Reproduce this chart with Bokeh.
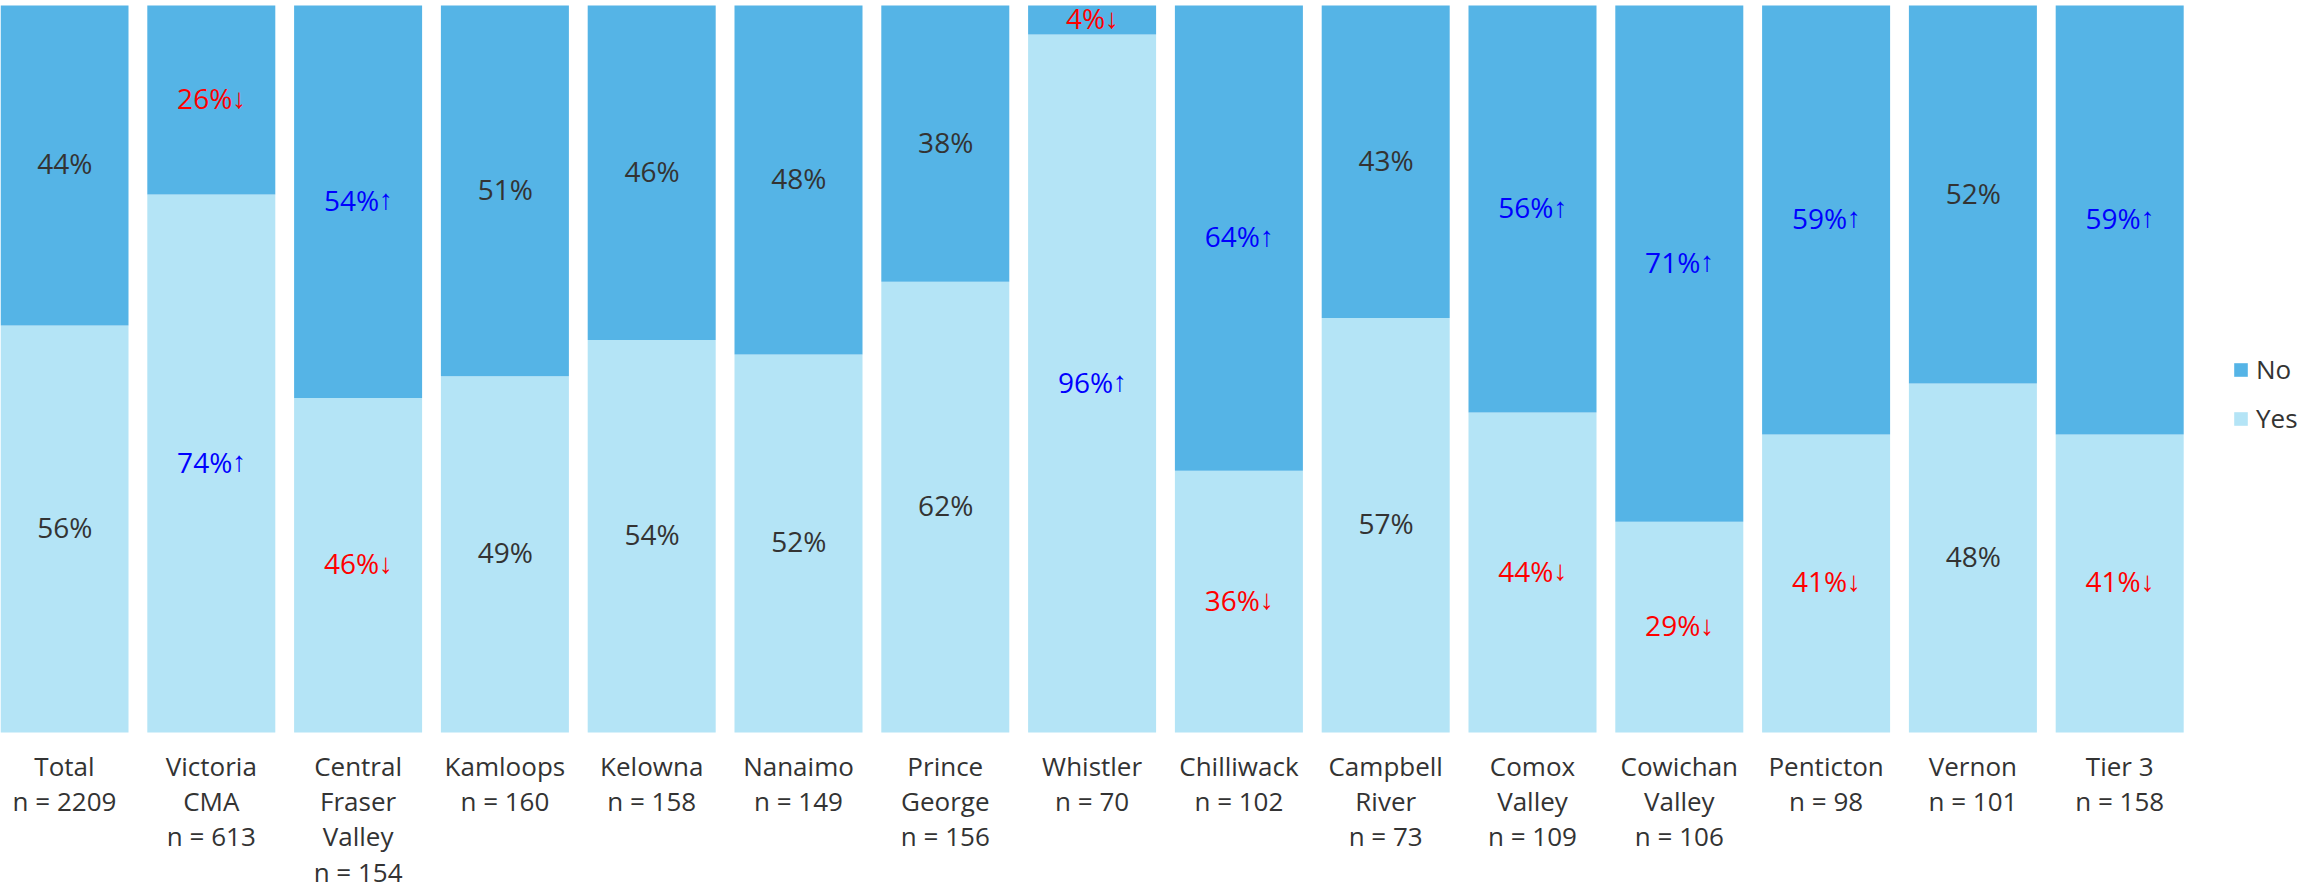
from bokeh.plotting import figure
from bokeh.models import ColumnDataSource, Range1d, Legend, LegendItem
from bokeh.core.properties import value
from bokeh.embed import file_html
from bokeh.resources import INLINE

categories = ["Total", "Victoria\nCMA", "Central\nFraser\nValley", "Kamloops", "Kelowna",
              "Nanaimo", "Prince\nGeorge", "Whistler", "Chilliwack", "Campbell\nRiver",
              "Comox\nValley", "Cowichan\nValley", "Penticton", "Vernon", "Tier 3"]
n_values = [2209, 613, 154, 160, 158, 149, 156, 70, 102, 73, 109, 106, 98, 101, 158]
yes_values = [56, 74, 46, 49, 54, 52, 62, 96, 36, 57, 44, 29, 41, 48, 41]
no_values = [44, 26, 54, 51, 46, 48, 38, 4, 64, 43, 56, 71, 59, 52, 59]
yes_sig = ["", "up", "down", "", "", "", "", "up", "down", "", "down", "down", "down", "", "down"]
no_sig = ["", "down", "up", "", "", "", "", "down", "up", "", "up", "up", "up", "", "up"]

NO_COLOR = "#55B4E6"
YES_COLOR = "#B4E4F6"
arrow = {"up": "\u2191", "down": "\u2193", "": ""}
sig_color = {"up": "#0000FF", "down": "#FF0000", "": "#333333"}

xs = list(range(len(categories)))
pitch = 146.8           # px per category
bar_w = 128 / pitch
W = 2300
H = 891
PX_PER_UNIT = 7.27      # px per percentage point
TOP_PAD = 5             # px above the 100% line
BAR_BOTTOM = 732        # px from top where 0% lies
LABEL_PX = 28
DIGIT_W = 0.572 * LABEL_PX      # Open Sans digit advance
PCT_W = 0.855 * LABEL_PX        # Open Sans '%' advance
ARROW_W = 0.5 * LABEL_PX        # Liberation Sans arrow advance


def label_offset(v, s):
    wn = len(str(v)) * DIGIT_W + PCT_W
    wa = ARROW_W if s else 0
    return (wn - wa) / 2


source = ColumnDataSource(dict(
    x=xs,
    zero=[0] * len(xs),
    yes_top=yes_values,
    no_bottom=yes_values,
    no_top=[y + n for y, n in zip(yes_values, no_values)],
    yes_mid=[y / 2 for y in yes_values],
    no_mid=[y + n / 2 for y, n in zip(yes_values, no_values)],
    yes_text=[f"{v}%" for v in yes_values],
    no_text=[f"{v}%" for v in no_values],
    yes_arrow=[arrow[s] for s in yes_sig],
    no_arrow=[arrow[s] for s in no_sig],
    yes_off=[label_offset(v, s) for v, s in zip(yes_values, yes_sig)],
    no_off=[label_offset(v, s) for v, s in zip(no_values, no_sig)],
    yes_color=[sig_color[s] for s in yes_sig],
    no_color=[sig_color[s] for s in no_sig],
    cat_label=[f"{c}\nn = {n}" for c, n in zip(categories, n_values)],
))

x_start = -64 / pitch
y_end = 100 + TOP_PAD / PX_PER_UNIT
y_start = -(H - BAR_BOTTOM) / PX_PER_UNIT
p = figure(width=W, height=H, output_backend="svg", toolbar_location=None,
           x_range=Range1d(x_start, x_start + W / pitch), y_range=Range1d(y_start, y_end),
           x_axis_location=None, y_axis_location=None,
           min_border_left=0, min_border_right=0, min_border_top=0, min_border_bottom=0)
p.grid.visible = False
p.outline_line_color = None

r_yes = p.vbar(x="x", bottom=0, top="yes_top", width=bar_w, source=source,
               fill_color=YES_COLOR, line_color=None)
r_no = p.vbar(x="x", bottom="no_bottom", top="no_top", width=bar_w, source=source,
              fill_color=NO_COLOR, line_color=None)

num_font = value("Open Sans")
arr_font = value("Liberation Sans")
for seg in ("yes", "no"):
    p.text(x="x", y=f"{seg}_mid", text=f"{seg}_text", source=source,
           text_color=f"{seg}_color", text_font=num_font, text_font_size=f"{LABEL_PX}px",
           text_align="right", text_baseline="alphabetic",
           x_offset=f"{seg}_off", y_offset=-2)
    p.text(x="x", y=f"{seg}_mid", text=f"{seg}_arrow", source=source,
           text_color=f"{seg}_color", text_font=arr_font, text_font_size=f"{LABEL_PX}px",
           text_align="left", text_baseline="alphabetic",
           x_offset=f"{seg}_off", y_offset=-2)

# category labels under the bars
p.text(x="x", y="zero", text="cat_label", source=source, text_color="#333333",
       text_font=value("Open Sans"), text_font_size="26px", text_align="center",
       text_baseline="top", text_line_height=0.985, y_offset=15)

legend = Legend(items=[LegendItem(label="No", renderers=[r_no]),
                       LegendItem(label="Yes", renderers=[r_yes])],
                location=(2232, 455), orientation="vertical",
                glyph_width=17, glyph_height=17, label_text_font="Open Sans",
                label_text_font_size="26px", label_text_color="#333333",
                spacing=13, padding=0, margin=0, background_fill_alpha=0,
                border_line_color=None, label_standoff=7)
p.add_layout(legend)

open("out.html", "w").write(file_html(p, INLINE))
